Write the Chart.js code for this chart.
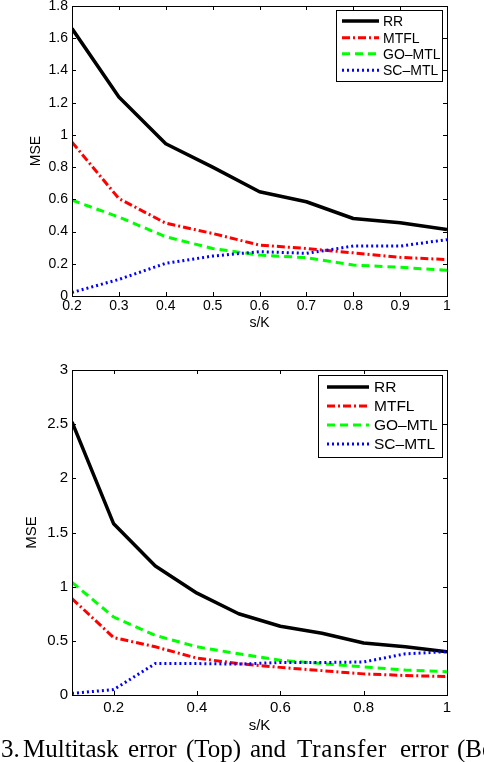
<!DOCTYPE html>
<html><head><meta charset="utf-8">
<script src="https://cdn.jsdelivr.net/npm/chart.js@4.4.0/dist/chart.umd.min.js"></script>
<style>
html,body{margin:0;padding:0;background:#fff;width:484px;height:762px;overflow:hidden;position:relative}
canvas{position:absolute;left:0}
#c1{top:-20px}
#c2{top:330px}
.cap span{position:absolute;top:736px;font-family:"Liberation Serif","Times New Roman",serif;font-size:25px;line-height:25px;white-space:nowrap;color:#000}
</style></head><body>
<canvas id="c1" width="484" height="365" style="width:484px;height:365px"></canvas>
<canvas id="c2" width="484" height="420" style="width:484px;height:420px"></canvas>
<div class="cap">
<span style="left:1px">3.</span><span style="left:23px">Multitask</span><span style="left:128px">error</span><span style="left:186px">(Top)</span><span style="left:250px">and</span><span style="left:297px;letter-spacing:0.8px">Transfer</span><span style="left:400px">error</span><span style="left:457px">(Bo</span>
</div>
<script>
// ---------- DATA ----------
const seriesNames = ['RR', 'MTFL', 'GO\u2013MTL', 'SC\u2013MTL'];

// Top chart (Multitask error)
const topX = [0.2, 0.3, 0.4, 0.5, 0.6, 0.7, 0.8, 0.9, 1.0];
const topRR   = [1.66, 1.235, 0.945, 0.80, 0.647, 0.585, 0.481, 0.455, 0.413];
const topMTFL = [0.955, 0.605, 0.452, 0.388, 0.316, 0.295, 0.268, 0.240, 0.226];
const topGO   = [0.595, 0.490, 0.368, 0.295, 0.254, 0.238, 0.192, 0.178, 0.160];
const topSC   = [0.022, 0.103, 0.203, 0.248, 0.275, 0.265, 0.310, 0.310, 0.350];
const topXTicks = [0.2, 0.3, 0.4, 0.5, 0.6, 0.7, 0.8, 0.9, 1.0];
const topXLabels = ['0.2', '0.3', '0.4', '0.5', '0.6', '0.7', '0.8', '0.9', '1'];
const topYTicks = [0, 0.2, 0.4, 0.6, 0.8, 1.0, 1.2, 1.4, 1.6, 1.8];
const topYLabels = ['0', '0.2', '0.4', '0.6', '0.8', '1', '1.2', '1.4', '1.6', '1.8'];

// Bottom chart (Transfer error)
const botX = [0.1, 0.2, 0.3, 0.4, 0.5, 0.6, 0.7, 0.8, 0.9, 1.0];
const botRR   = [2.52, 1.58, 1.19, 0.94, 0.75, 0.635, 0.57, 0.48, 0.445, 0.40];
const botMTFL = [0.89, 0.53, 0.445, 0.34, 0.29, 0.255, 0.225, 0.195, 0.18, 0.17];
const botGO   = [1.04, 0.72, 0.55, 0.445, 0.38, 0.32, 0.29, 0.26, 0.23, 0.215];
const botSC   = [0.015, 0.05, 0.29, 0.29, 0.285, 0.30, 0.30, 0.305, 0.38, 0.40];
const botXTicks = [0.2, 0.4, 0.6, 0.8, 1.0];
const botXLabels = ['0.2', '0.4', '0.6', '0.8', '1'];
const botYTicks = [0, 0.5, 1.0, 1.5, 2.0, 2.5, 3.0];
const botYLabels = ['0', '0.5', '1', '1.5', '2', '2.5', '3'];

const xTitle = 's/K';
const yTitle = 'MSE';

// ---------- STYLES ----------
const lineStyles = [
  {color: '#000000', width: 3.5, dash: []},
  {color: '#ff0000', width: 3, dash: [8, 3, 2, 3]},
  {color: '#00ff00', width: 3, dash: [8, 5]},
  {color: '#0000ff', width: 3, dash: [2, 3]}
];
const FONT = '"Liberation Sans", Arial, Helvetica, sans-serif';

const framePlugin = {
  id: 'frame',
  afterDatasetsDraw(chart, args, o) {
    const {ctx, chartArea: a} = chart;
    const xs = chart.scales.x, ys = chart.scales.y;
    ctx.save();
    ctx.strokeStyle = '#000';
    ctx.lineWidth = 1;
    ctx.setLineDash([]);
    const L = o.tick;
    ctx.beginPath();
    xs.ticks.forEach(t => {
      const p = Math.round(xs.getPixelForValue(t.value)) + 0.5;
      ctx.moveTo(p, a.bottom); ctx.lineTo(p, a.bottom - L);
      ctx.moveTo(p, a.top); ctx.lineTo(p, a.top + L);
    });
    ys.ticks.forEach(t => {
      const p = Math.round(ys.getPixelForValue(t.value)) + 0.5;
      ctx.moveTo(a.left, p); ctx.lineTo(a.left + L, p);
      ctx.moveTo(a.right, p); ctx.lineTo(a.right - L, p);
    });
    ctx.stroke();
    ctx.strokeRect(Math.round(a.left) + 0.5, Math.round(a.top) + 0.5,
      Math.round(a.right - a.left), Math.round(a.bottom - a.top));
    // legend
    const lg = o.legend;
    ctx.fillStyle = '#fff';
    ctx.fillRect(lg.x0, lg.y0, lg.x1 - lg.x0, lg.y1 - lg.y0);
    ctx.strokeRect(lg.x0 + 0.5, lg.y0 + 0.5, lg.x1 - lg.x0, lg.y1 - lg.y0);
    ctx.font = lg.font + 'px ' + FONT;
    ctx.textBaseline = 'middle';
    ctx.textAlign = 'left';
    chart.data.datasets.forEach((ds, i) => {
      const y = lg.rows[i];
      ctx.beginPath();
      ctx.strokeStyle = ds.borderColor;
      ctx.lineWidth = ds.borderWidth;
      ctx.setLineDash(ds.borderDash);
      ctx.moveTo(lg.sx0, y); ctx.lineTo(lg.sx1, y);
      ctx.stroke();
      ctx.fillStyle = '#000';
      ctx.fillText(ds.label, lg.tx, y + 1);
    });
    ctx.restore();
  }
};

function makeChart(id, xVals, seriesArr, cfg) {
  const datasets = seriesArr.map((vals, i) => ({
    label: seriesNames[i],
    data: xVals.map((x, j) => ({x: x, y: vals[j]})),
    borderColor: lineStyles[i].color,
    backgroundColor: lineStyles[i].color,
    borderWidth: lineStyles[i].width,
    borderDash: lineStyles[i].dash,
    borderCapStyle: 'butt',
    borderJoinStyle: 'round',
    pointRadius: 0,
    tension: 0,
    fill: false,
    order: 4 - i
  }));
  return new Chart(document.getElementById(id), {
    type: 'line',
    data: {datasets},
    plugins: [framePlugin],
    options: {
      responsive: false,
      animation: false,
      events: [],
      layout: {padding: {left: 0, right: 484 - cfg.right, top: cfg.top, bottom: 0}},
      plugins: {
        legend: {display: false},
        tooltip: {enabled: false},
        frame: {tick: cfg.tick, legend: cfg.legend}
      },
      scales: {
        x: {
          type: 'linear', min: cfg.xmin, max: cfg.xmax,
          afterBuildTicks: s => { s.ticks = cfg.xTicks.map(v => ({value: v})); },
          afterFit: s => { s.height = cfg.xh; },
          ticks: {callback: (v, i) => cfg.xLabels[i], font: {family: FONT, size: cfg.fs}, color: '#000',
                  padding: cfg.xpad, maxRotation: 0, autoSkip: false},
          grid: {display: false, drawTicks: false},
          border: {display: false},
          title: {display: true, text: xTitle, color: '#000', font: {family: FONT, size: cfg.fs},
                  padding: {top: 0, bottom: cfg.xtpad}}
        },
        y: {
          type: 'linear', min: cfg.ymin, max: cfg.ymax,
          afterBuildTicks: s => { s.ticks = cfg.yTicks.map(v => ({value: v})); },
          afterFit: s => { s.width = cfg.left; },
          ticks: {callback: (v, i) => cfg.yLabels[i], font: {family: FONT, size: cfg.fs}, color: '#000',
                  padding: 4, autoSkip: false},
          grid: {display: false, drawTicks: false},
          border: {display: false},
          title: {display: true, text: yTitle, color: '#000', font: {family: FONT, size: cfg.fs},
                  padding: {top: cfg.ytpad, bottom: 0}}
        }
      }
    }
  });
}

// top chart: canvas page offset -20
makeChart('c1', topX, [topRR, topMTFL, topGO, topSC], {
  xmin: 0.2, xmax: 1.0, ymin: 0, ymax: 1.8,
  xTicks: topXTicks, xLabels: topXLabels, yTicks: topYTicks, yLabels: topYLabels,
  left: 72, right: 447, top: 26, xh: 365 - 316, fs: 14, xpad: 2, xtpad: 13.6, ytpad: 27.6,
  tick: 4,
  legend: {x0: 336, y0: 30, x1: 442, y1: 101, sx0: 342, sx1: 379, tx: 383,
           rows: [41, 57.7, 73.7, 90.3], font: 14}
});

// bottom chart: canvas page offset 330
makeChart('c2', botX, [botRR, botMTFL, botGO, botSC], {
  xmin: 0.1, xmax: 1.0, ymin: 0, ymax: 3,
  xTicks: botXTicks, xLabels: botXLabels, yTicks: botYTicks, yLabels: botYLabels,
  left: 72, right: 447, top: 40, xh: 420 - 365, fs: 15, xpad: 4, xtpad: 15, ytpad: 22.5,
  tick: 4,
  legend: {x0: 318, y0: 45, x1: 442, y1: 127, sx0: 327, sx1: 369, tx: 374,
           rows: [57, 76, 95, 114], font: 15.5}
});
</script>
</body></html>
